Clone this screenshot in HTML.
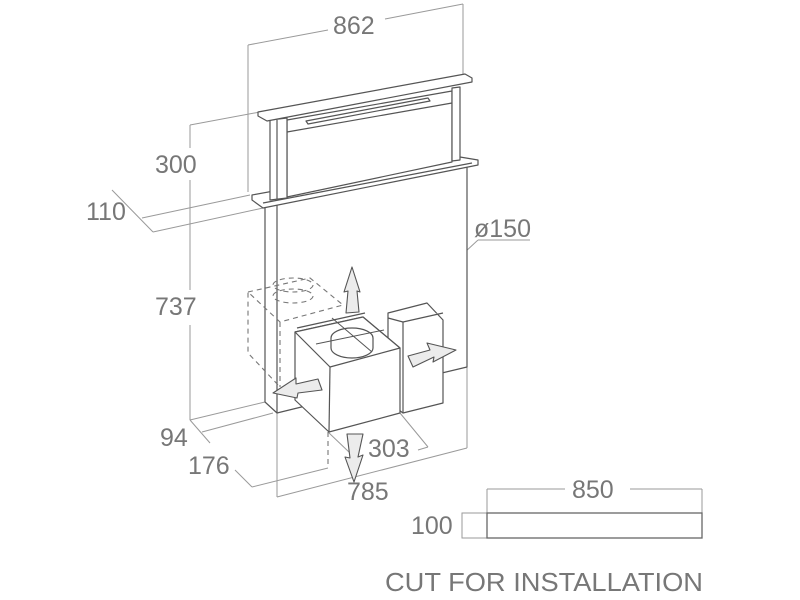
<!DOCTYPE html>
<html><head><meta charset="utf-8"><style>
html,body{margin:0;padding:0;background:#fff;}
svg{display:block;}
text{font-family:"Liberation Sans",sans-serif;fill:#777;font-size:25px;}
</style></head><body>
<svg width="800" height="600" viewBox="0 0 800 600" xmlns="http://www.w3.org/2000/svg">
<g fill="none" stroke="#9a9a9a" stroke-width="1">
<line x1="248" y1="45" x2="248" y2="192"/>
<line x1="463" y1="4" x2="463" y2="74"/>
<line x1="248" y1="45" x2="328" y2="30"/>
<line x1="385" y1="19" x2="463" y2="4"/>
<line x1="190" y1="125" x2="190" y2="148"/>
<line x1="190" y1="180" x2="190" y2="290"/>
<line x1="190" y1="325" x2="190" y2="420"/>
<line x1="190" y1="125" x2="260" y2="112"/>
<line x1="112" y1="190" x2="153" y2="232"/>
<line x1="142" y1="218" x2="250" y2="195"/>
<line x1="153" y1="232" x2="263" y2="208"/>
<line x1="190" y1="420" x2="265" y2="402"/>
<line x1="190" y1="420" x2="210" y2="443"/>
<line x1="202" y1="432" x2="273" y2="413"/>
<line x1="235" y1="470" x2="252" y2="487"/>
<line x1="252" y1="487" x2="328" y2="468"/>
<line x1="277" y1="413" x2="277" y2="497"/>
<line x1="467" y1="165" x2="467" y2="448"/>
<line x1="277" y1="497" x2="467" y2="448"/>
<line x1="328" y1="432" x2="350" y2="453"/>
<line x1="400" y1="413" x2="428" y2="447"/>
<line x1="418" y1="450" x2="428" y2="447"/>
<line x1="370" y1="340" x2="478" y2="240"/>
<line x1="478" y1="240" x2="530" y2="240"/>
<line x1="487" y1="489" x2="487" y2="513"/>
<line x1="702" y1="489" x2="702" y2="513"/>
<line x1="487" y1="489" x2="565" y2="489"/>
<line x1="630" y1="489" x2="702" y2="489"/>
<polyline points="487,513 462,513 462,538 487,538"/>
</g>
<rect x="487" y="513" width="215" height="25" fill="none" stroke="#666" stroke-width="1.3"/>
<g fill="#fff" stroke="#555" stroke-width="1.2" stroke-linejoin="round">
<polygon points="265,205 467,165 467,367 400,383 330,400 277,413 265,402"/>
<line x1="277" y1="205" x2="277" y2="413"/>
<polygon points="252,195 460,157 478,160 478,165 263,208 252,200"/>
<line x1="263" y1="203" x2="472" y2="163"/>
<polygon points="287,120 452,91 452,162 287,197"/>
<line x1="287" y1="132" x2="452" y2="103"/>
<polygon points="270,120 287,118 287,198 270,200"/>
<line x1="277" y1="120" x2="277" y2="199"/>
<polygon points="452,88 460,87 460,160 452,161"/>
<polygon points="258,112 465,74 472,78 472,82 267,121 258,116"/>
<polygon points="306,121 428,98 430,101 308,124"/>
</g>
<g fill="none" stroke="#777" stroke-width="1.1" stroke-dasharray="5,4">
<polyline points="248,292 310,278 343,305 280,322 248,292 248,353 280,387"/>
<line x1="280" y1="322" x2="280" y2="387"/>
<ellipse cx="293" cy="285" rx="20" ry="7"/>
<ellipse cx="293" cy="296" rx="20" ry="7"/>
<line x1="328" y1="432" x2="328" y2="468"/>
</g>
<g fill="#fff" stroke="#555" stroke-width="1.2" stroke-linejoin="round">
<polygon points="388,313 427,303 443,320 443,403 403,413 388,402"/>
<polyline points="388,318 403,322 443,313"/>
<line x1="403" y1="322" x2="403" y2="413"/>
<polygon points="295,332 363,317 400,348 400,413 329,432 295,400"/>
<polygon points="295,332 363,317 400,348 330,367"/>
<line x1="330" y1="367" x2="329" y2="432"/>
<line x1="297" y1="328" x2="365" y2="313"/>
<ellipse cx="352" cy="338" rx="21" ry="10"/>
<path d="M331,338 v10 a21,10 0 0 0 42,0 v-10"/>
<line x1="316" y1="344" x2="384" y2="330" stroke-width="1"/>
<line x1="332" y1="318" x2="372" y2="352" stroke-width="1"/>
</g>
<g fill="#ececec" stroke="#555" stroke-width="1.1" stroke-linejoin="round">
<polygon points="352,267 360,292 357,291 359,312 346,313 348,291 344,292"/>
<polygon points="456,350 433,362 434,357 413,367 408,356 430,350 427,343"/>
<polygon points="273,393 296,378 296,384 318,379 322,390 298,393 297,398"/>
<polygon points="354,482 363,455 358,457 363,434 347,434 350,458 345,457"/>
</g>
<text x="333" y="34">862</text>
<text x="155" y="173">300</text>
<text x="86" y="220">110</text>
<text x="155" y="315">737</text>
<text x="474" y="237">ø150</text>
<text x="160" y="446">94</text>
<text x="188" y="474">176</text>
<text x="368" y="457">303</text>
<text x="347" y="500">785</text>
<text x="572" y="498">850</text>
<text x="411" y="534">100</text>
<text x="385" y="591" style="font-size:26px" textLength="318" lengthAdjust="spacingAndGlyphs">CUT FOR INSTALLATION</text>
</svg>
</body></html>
